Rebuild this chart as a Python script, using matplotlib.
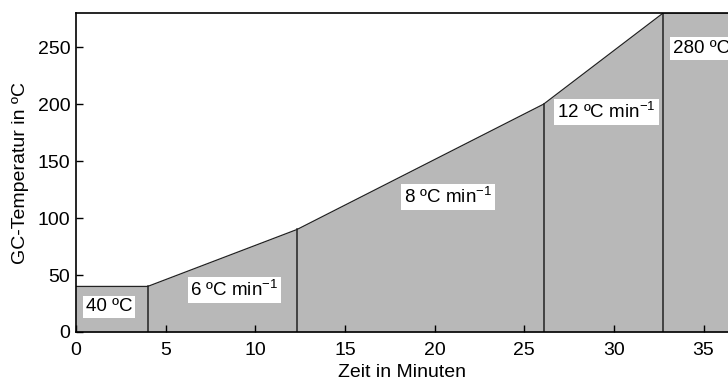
import matplotlib
matplotlib.use("Agg")
import matplotlib.pyplot as plt

plt.rcParams['font.family'] = ['Liberation Sans', 'DejaVu Sans']
plt.rcParams['mathtext.fontset'] = 'custom'
plt.rcParams['mathtext.rm'] = 'Liberation Sans'
plt.rcParams['mathtext.it'] = 'Liberation Sans'

# Temperaturprogramm (Zeit in min, Temperatur in °C)
zeit = [0, 4, 12.33, 26.08, 32.75, 40]
temp = [40, 40, 90, 200, 280, 280]
stufen = [4, 12.33, 26.08, 32.75]

labels = ["40 ºC", "6 ºC min$^{-1}$", "8 ºC min$^{-1}$", "12 ºC min$^{-1}$", "280 ºC"]
label_x = [1.84, 8.84, 20.75, 29.59, 33.3]
label_y = [22, 36.8, 118.4, 193.4, 249]
label_ha = ["center", "center", "center", "center", "left"]

fig = plt.figure(figsize=(7.28, 3.83), dpi=100)
ax = fig.add_axes([76 / 728, 1 - 332 / 383, 1 - 76 / 728, (332 - 13) / 383])

ax.fill_between(zeit, temp, 0, color='#b8b8b8', linewidth=0)
ax.plot(zeit, temp, color='#222222', linewidth=0.9)
for s in stufen:
    t = temp[zeit.index(s)]
    ax.plot([s, s], [0, t], color='#222222', linewidth=1.1)

for txt, x, y, ha in zip(labels, label_x, label_y, label_ha):
    ax.text(x, y, txt, ha=ha, va='center', fontsize=13.5,
            bbox=dict(facecolor='white', edgecolor='none', pad=2))

ax.set_xlim(0, (728 - 76) / 17.93)
ax.set_ylim(0, 280)
ax.set_xticks([0, 5, 10, 15, 20, 25, 30, 35])
ax.set_yticks([0, 50, 100, 150, 200, 250])
ax.tick_params(direction='in', length=5, width=1, labelsize=14)
ax.tick_params(axis='x', pad=7)
ax.tick_params(axis='y', pad=4)
ax.spines['right'].set_visible(False)
for sp in ['left', 'top', 'bottom']:
    ax.spines[sp].set_linewidth(1.2)
ax.set_xlabel("Zeit in Minuten", fontsize=14, labelpad=4)
ax.set_ylabel("GC-Temperatur in ºC", fontsize=14, labelpad=6)

fig.savefig("out.png", dpi=100)
